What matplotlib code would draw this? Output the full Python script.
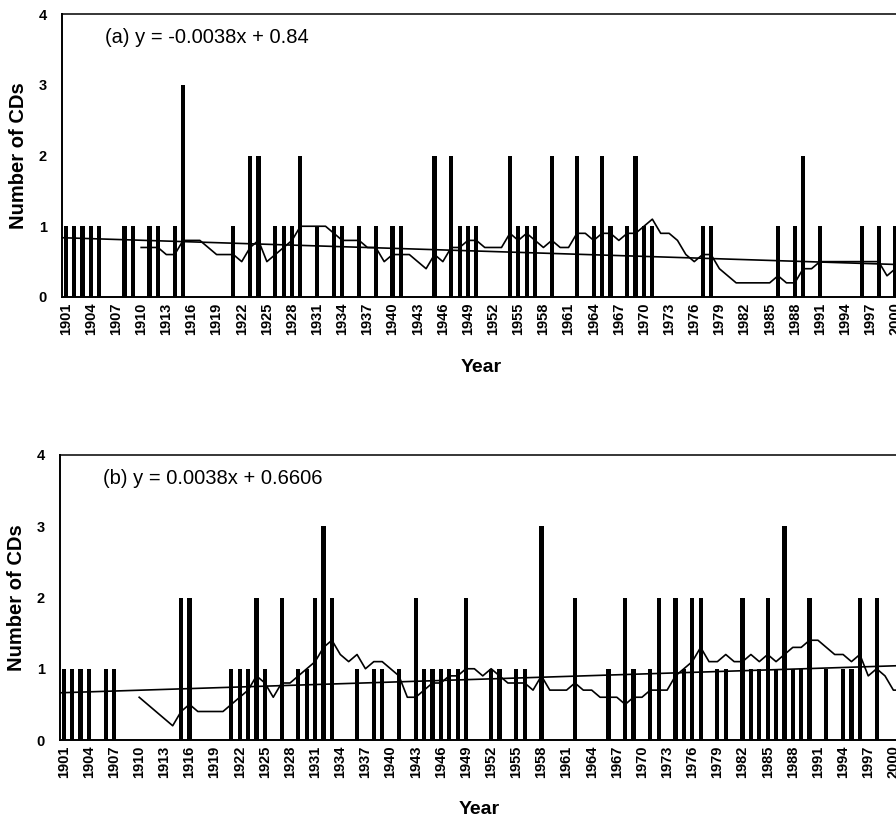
import numpy as np
import matplotlib.pyplot as plt

plt.rcParams['font.family'] = ['Liberation Sans', 'DejaVu Sans']

# full year range of the record
years = np.arange(1901, 2003)

# (a) years with CDs and how many
cd_years_a = [1901, 1902, 1903, 1904, 1905, 1908, 1909, 1911, 1912, 1914,
              1915, 1921, 1923, 1924, 1926, 1927, 1928, 1929, 1931, 1933,
              1934, 1936, 1938, 1940, 1941, 1945, 1947, 1948, 1949, 1950,
              1954, 1955, 1956, 1957, 1959, 1962, 1964, 1965, 1966, 1968,
              1969, 1970, 1971, 1977, 1978, 1986, 1988, 1989, 1991, 1996,
              1998, 2000]
cd_counts_a = [1, 1, 1, 1, 1, 1, 1, 1, 1, 1,
               3, 1, 2, 2, 1, 1, 1, 2, 1, 1,
               1, 1, 1, 1, 1, 2, 2, 1, 1, 1,
               2, 1, 1, 1, 2, 2, 1, 2, 1, 1,
               2, 1, 1, 1, 1, 1, 1, 2, 1, 1,
               1, 1]

# (b) years with CDs and how many
cd_years_b = [1901, 1902, 1903, 1904, 1906, 1907, 1915, 1916, 1921, 1922,
              1923, 1924, 1925, 1927, 1929, 1930, 1931, 1932, 1933, 1936,
              1938, 1939, 1941, 1943, 1944, 1945, 1946, 1947, 1948, 1949,
              1952, 1953, 1955, 1956, 1958, 1962, 1966, 1968, 1969, 1971,
              1972, 1974, 1975, 1976, 1977, 1979, 1980, 1982, 1983, 1984,
              1985, 1986, 1987, 1988, 1989, 1990, 1992, 1994, 1995, 1996,
              1998]
cd_counts_b = [1, 1, 1, 1, 1, 1, 2, 2, 1, 1,
               1, 2, 1, 2, 1, 1, 2, 3, 2, 1,
               1, 1, 1, 2, 1, 1, 1, 1, 1, 2,
               1, 1, 1, 1, 3, 2, 1, 2, 1, 1,
               2, 2, 1, 2, 2, 1, 1, 2, 1, 1,
               2, 1, 3, 1, 1, 2, 1, 1, 1, 2,
               2]

# linear trends as printed on the panels (x = year - 1900)
trend_a = (-0.0038, 0.84)
trend_b = (0.0038, 0.6606)
labels = ['(a) y = -0.0038x + 0.84', '(b) y = 0.0038x + 0.6606']

period = 10  # moving average window


def full_series(cd_years, cd_counts):
    s = np.zeros(len(years))
    s[np.array(cd_years) - years[0]] = cd_counts
    return s


W, H = 896, 824
fig = plt.figure(figsize=(W / 100, H / 100), dpi=100)
px_per_year = 8.38
x_left = 1900.6
x_right = 2002.0
width_px = (x_right - x_left) * px_per_year

# axes boxes in pixels: left, y of zero line, height, xlabel y
boxes = [(62.4, 297, 283, -0.219), (60.4, 740, 285, -0.214)]
panels = [(cd_years_a, cd_counts_a, trend_a, labels[0]),
          (cd_years_b, cd_counts_b, trend_b, labels[1])]

for (left, base, hgt, xl_y), (cy, cc, (m, c), txt) in zip(boxes, panels):
    ax = fig.add_axes([left / W, (H - base) / H, width_px / W, hgt / H])
    ax.bar(cy, cc, width=0.5, color='black', zorder=2)

    series = full_series(cy, cc)
    ma = np.convolve(series, np.ones(period) / period, mode='valid')
    ax.plot(years[period - 1:], ma, color='black', lw=1.2, zorder=3)

    xt = np.array([x_left, x_right])
    ax.plot(xt, m * (xt - 1900) + c, color='black', lw=1.2, zorder=3)

    ax.set_xlim(x_left, x_right)
    ax.set_ylim(0, 4)
    ax.set_yticks([0, 1, 2, 3, 4])
    ax.set_xticks(range(1901, 2001, 3))
    ax.set_xticklabels([str(y) for y in range(1901, 2001, 3)], rotation=90)
    ax.tick_params(axis='both', length=0, labelsize=10.5)
    ax.tick_params(axis='y', pad=11)
    ax.tick_params(axis='x', pad=4)
    for lab in ax.get_xticklabels() + ax.get_yticklabels():
        lab.set_fontweight('bold')

    for side in ['left', 'bottom']:
        ax.spines[side].set_linewidth(1.4)
    ax.spines['top'].set_linewidth(1.1)
    ax.spines['right'].set_visible(False)

    ax.set_ylabel('Number of CDs', fontsize=14.5, fontweight='bold')
    ax.set_xlabel('Year', fontsize=14, fontweight='bold')
    ax.yaxis.set_label_coords(-0.0405, 0.5)
    ax.xaxis.set_label_coords(0.493, xl_y)

    ax.text(1905.7, 3.67, txt, fontsize=14.5, va='center', ha='left')

fig.savefig('out.png', dpi=100)
